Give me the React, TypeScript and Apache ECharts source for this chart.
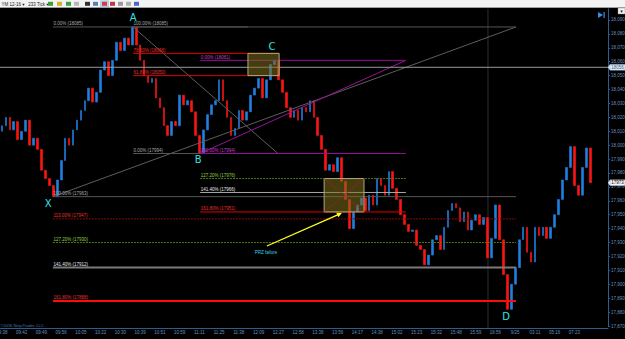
import React, { useEffect, useRef } from 'react';
import * as echarts from 'echarts';

// ---------- data ----------
const timeLabels = ['09:38', '09:42', '09:49', '09:56', '10:05', '10:22', '10:30', '10:39', '10:51', '10:59', '11:11', '11:25', '11:38', '12:09', '12:27', '12:58', '13:38', '13:56', '14:17', '14:38', '15:02', '15:23', '15:32', '15:48', '15:59', '16:56', '9/25', '03:11', '05:16', '07:23'];
const barsPerLabel = 5;
const slotCount = 154;
const firstOpen = 18010;
const closes = [
  18014, 18020, 18011, 18017, 18004, 18010, 18018, 18000, 18005, 17997,
  17982, 17976, 17971, 17963, 17975, 17989, 18005, 18000, 18011, 18018,
  18025, 18032, 18041, 18031, 18038, 18054, 18060, 18050, 18061, 18074,
  18068, 18077, 18072, 18085, 18072, 18061, 18050, 18045, 18048, 18034,
  18027, 18014, 18007, 18017, 18014, 18036, 18029, 18032, 18024, 18007,
  17994, 18011, 18022, 18029, 18032, 18047, 18032, 18020, 18007, 18012,
  18025, 18018, 18024, 18036, 18041, 18048, 18034, 18047, 18058, 18061,
  18047, 18038, 18027, 18020, 18025, 18018, 18027, 18024, 18032, 18020,
  18007, 17997, 17982, 17986, 17981, 17991, 17974, 17961, 17940, 17952,
  17957, 17962, 17953, 17964, 17957, 17976, 17971, 17964, 17981, 17969,
  17961, 17950, 17943, 17938, 17939, 17928, 17925, 17914, 17921, 17932,
  17935, 17925, 17941, 17953, 17958, 17955, 17945, 17952, 17939, 17946,
  17950, 17943, 17948, 17919, 17933, 17957, 17932, 17907, 17882, 17900,
  17912, 17932, 17941, 17923, 17916, 17941, 17935, 17941, 17933, 17941,
  17950, 17961, 17975, 17984, 17999, 17971, 17964, 17984, 17998, 17973,
];
const priceMin = 17870;
const priceMax = 18098;
const priceStep = 10;
const lastPrice = 17973;
const drawnLinePrice = 18056;
const sessionBreakIndex = 123.1;

// Fibonacci levels: price, start bar, end bar, label, kind
const levelPrices = [18085, 17963, 17947, 17930, 17912, 17888, 18085, 18066, 18050, 17994, 18061, 17994, 17976, 17966, 17952];
const levelFrom = [12.9, 12.9, 12.9, 12.9, 12.9, 12.9, 33.2, 33.2, 33.2, 33.2, 50.2, 50.2, 50.2, 50.2, 50.2];
const levelTo = [130.2, 130.2, 130.2, 130.2, 130.2, 130.2, 62.3, 70.2, 70.2, 50.2, 102.3, 102.3, 102.3, 102.3, 102.3];
const levelTexts = ['0.00% (18085)', '100.00% (17963)', '113.00% (17947)', '127.20% (17930)', '141.40% (17912)', '161.80% (17888)', '100.00% (18085)', '78.60% (18066)', '61.80% (18050)', '0.00% (17994)', '0.00% (18061)', '100.00% (17994)', '127.20% (17976)', '141.40% (17966)', '161.80% (17951)'];
const levelKinds = ['grey', 'grey', 'redDot', 'green', 'white2', 'red2', 'grey', 'red', 'red', 'grey', 'purple', 'purple', 'green', 'white', 'red'];

// diagonals: [bar, price] -> [bar, price]
const diagonals = [
  { a: [33.2, 18085], b: [69.9, 17994], kind: 'diagGrey' },
  { a: [12.9, 17963], b: [130.2, 18085], kind: 'diagGrey' },
  { a: [50.2, 17994], b: [102.3, 18061], kind: 'diagPurple' },
];
const zones = [
  { a: [62.3, 18066], b: [70.2, 18050], cross: false },
  { a: [81.6, 17976], b: [91.7, 17952], cross: true },
];
const arrowFrom = [67.1, 17927.5];
const arrowTo = [86.1, 17951.3];
const noteText = 'PRZ failure';
const noteAt = [66.9, 17923];
const pointLabels = [
  { t: 'X', at: [11.7, 17963], dy: 7 },
  { t: 'A', at: [33.2, 18085], dy: -9 },
  { t: 'B', at: [49.7, 17994], dy: 6 },
  { t: 'C', at: [68.4, 18066], dy: -7 },
  { t: 'D', at: [127.7, 17882], dy: 7 },
];

// ---------- styles ----------
const kindStyle: Record<string, { stroke: string; w: number; dash?: number[]; text: string }> = {
  grey: { stroke: '#555555', w: 1, text: '#a8a8a8' },
  redDot: { stroke: '#8a0a0a', w: 1, dash: [2, 1], text: '#e83030' },
  green: { stroke: '#4e7a12', w: 1, dash: [2, 1], text: '#92d040' },
  white2: { stroke: '#7a7a7a', w: 2, text: '#e8e8e8' },
  red2: { stroke: '#ff0a0a', w: 2, text: '#e83030' },
  red: { stroke: '#e00000', w: 1, text: '#e83030' },
  purple: { stroke: '#9a0a9a', w: 1, text: '#c040c0' },
  white: { stroke: '#a8a8a8', w: 1, text: '#e8e8e8' },
  diagGrey: { stroke: '#5e5e5e', w: 1, text: '' },
  diagPurple: { stroke: '#9a109a', w: 1, text: '' },
};
const FONT = 'Liberation Sans, DejaVu Sans, sans-serif';
const AXIS_COLOR = '#2d5d8f';
const AXIS_TEXT = '#6c90bb';

export default function App() {
  const ref = useRef<HTMLDivElement>(null);
  useEffect(() => {
    if (!ref.current) return;
    const chart = echarts.init(ref.current, null, { renderer: 'svg' });
    const categories = Array.from({ length: slotCount }, (_, i) => String(i));
    const candles = closes.map((c, i) => {
      const o = i === 0 ? firstOpen : closes[i - 1];
      return [o, c, Math.min(o, c), Math.max(o, c)];
    });
    chart.setOption({
      animation: false,
      backgroundColor: '#000000',
      grid: { left: 0, right: 17, top: 8.87, bottom: 13, containLabel: false, outerBoundsMode: 'none' },
      xAxis: [
        {
          type: 'category',
          data: categories,
          boundaryGap: true,
          offset: 2,
          axisLine: { onZero: false, lineStyle: { color: AXIS_COLOR, width: 1 } },
          axisTick: { interval: barsPerLabel - 1, alignWithLabel: true, length: 2, lineStyle: { color: AXIS_COLOR } },
          axisLabel: {
            interval: barsPerLabel - 1,
            color: AXIS_TEXT,
            fontSize: 4.5,
            fontFamily: FONT,
            margin: 2,
            formatter: (_v: string, idx: number) => (idx % barsPerLabel === 0 ? timeLabels[idx / barsPerLabel] ?? '' : ''),
          },
          splitLine: { show: false },
        },
        { type: 'value', min: -0.5, max: slotCount - 0.5, show: false, gridIndex: 0, axisLine: { onZero: false } },
      ],
      yAxis: {
        type: 'value',
        position: 'right',
        min: priceMin,
        max: priceMax,
        interval: priceStep,
        axisLine: { show: true, onZero: false, lineStyle: { color: AXIS_COLOR } },
        axisTick: { show: true, length: 2, lineStyle: { color: AXIS_COLOR } },
        axisLabel: { color: AXIS_TEXT, fontSize: 4.5, fontFamily: FONT, margin: 3, showMaxLabel: false },
        splitLine: { show: false },
      },
      series: [
        {
          type: 'candlestick',
          data: candles,
          barWidth: '55%',
          itemStyle: { color: '#1f80e0', color0: '#ff1414', borderColor: '#1f80e0', borderColor0: '#ff1414', borderWidth: 0.6 },
        },
        { type: 'line', xAxisIndex: 1, yAxisIndex: 0, data: [] },
      ],
    });

    const P = (x: number, p: number): number[] => chart.convertToPixel({ xAxisIndex: 1, yAxisIndex: 0 }, [x, p]) as number[];
    const g: any[] = [];
    const top = P(0, priceMax)[1];
    const bottom = P(0, priceMin)[1] + 2;
    const axisX = P(slotCount - 0.5, priceMin)[0];

    // session break
    const sx = P(sessionBreakIndex, priceMin)[0];
    g.push({ type: 'line', shape: { x1: sx, y1: top, x2: sx, y2: bottom }, style: { stroke: '#2e2e2e', lineWidth: 1 }, z: 1 });

    // drawn horizontal line
    const hy = P(0, drawnLinePrice)[1];
    g.push({ type: 'line', shape: { x1: 0, y1: hy, x2: axisX, y2: hy }, style: { stroke: '#9a9a9a', lineWidth: 1 }, z: 5 });

    // diagonals
    diagonals.forEach((d) => {
      const s = kindStyle[d.kind];
      const a = P(d.a[0], d.a[1]);
      const b = P(d.b[0], d.b[1]);
      g.push({ type: 'line', shape: { x1: a[0], y1: a[1], x2: b[0], y2: b[1] }, style: { stroke: s.stroke, lineWidth: s.w }, z: 4 });
    });

    // levels
    levelPrices.forEach((p, i) => {
      const s = kindStyle[levelKinds[i]];
      const a = P(levelFrom[i], p);
      const b = P(levelTo[i], p);
      if (b[0] > a[0]) {
        g.push({ type: 'line', shape: { x1: a[0], y1: a[1], x2: b[0], y2: b[1] }, style: { stroke: s.stroke, lineWidth: s.w, lineDash: s.dash }, z: 5 });
      }
      g.push({
        type: 'text', x: a[0] + 0.5, y: a[1] - 0.8, z: 7,
        style: { text: levelTexts[i], fill: s.text, fontSize: 4.5, fontFamily: FONT, align: 'left', verticalAlign: 'bottom' },
      });
    });

    // zones
    zones.forEach((zn) => {
      const a = P(zn.a[0], zn.a[1]);
      const b = P(zn.b[0], zn.b[1]);
      g.push({ type: 'rect', shape: { x: a[0], y: a[1], width: b[0] - a[0], height: b[1] - a[1] }, style: { fill: 'rgba(125,112,28,0.55)', stroke: '#b0a878', lineWidth: 1 }, z: 6 });
      if (zn.cross) {
        g.push({ type: 'line', shape: { x1: a[0], y1: a[1], x2: b[0], y2: b[1] }, style: { stroke: '#a02020', lineWidth: 0.6 }, z: 6 });
        g.push({ type: 'line', shape: { x1: a[0], y1: b[1], x2: b[0], y2: a[1] }, style: { stroke: '#a02020', lineWidth: 0.6 }, z: 6 });
      }
    });

    // arrow
    const s0 = P(arrowFrom[0], arrowFrom[1]);
    const e0 = P(arrowTo[0], arrowTo[1]);
    const dx = e0[0] - s0[0];
    const dy = e0[1] - s0[1];
    const len = Math.hypot(dx, dy);
    const ux = dx / len;
    const uy = dy / len;
    const nx = -uy;
    const ny = ux;
    g.push({ type: 'line', shape: { x1: s0[0], y1: s0[1], x2: e0[0] - ux * 4, y2: e0[1] - uy * 4 }, style: { stroke: '#ffff20', lineWidth: 1.3 }, z: 8 });
    g.push({
      type: 'polygon',
      shape: { points: [[e0[0], e0[1]], [e0[0] - ux * 5 + nx * 2.5, e0[1] - uy * 5 + ny * 2.5], [e0[0] - ux * 5 - nx * 2.5, e0[1] - uy * 5 - ny * 2.5]] },
      style: { fill: '#ffff20' }, z: 8,
    });
    const np = P(noteAt[0], noteAt[1]);
    g.push({ type: 'text', x: np[0], y: np[1], z: 8, style: { text: noteText, fill: '#30d8e0', fontSize: 4.5, fontFamily: FONT, align: 'center', verticalAlign: 'middle' } });

    // swing point letters
    pointLabels.forEach((l) => {
      const q = P(l.at[0], l.at[1]);
      g.push({ type: 'text', x: q[0], y: q[1] + l.dy, z: 9, style: { text: l.t, fill: '#2fe4e4', fontSize: 10, fontFamily: 'DejaVu Sans, sans-serif', align: 'center', verticalAlign: 'middle' } });
    });

    // price markers on axis
    const markers = [
      { p: drawnLinePrice, fill: '#e6edf6', color: '#2d5d8f' },
      { p: lastPrice, fill: '#f4f4f4', color: '#000000' },
    ];
    markers.forEach((m) => {
      const y = P(0, m.p)[1];
      g.push({ type: 'polygon', shape: { points: [[axisX, y], [axisX + 2, y - 3], [axisX + 2, y + 3]] }, style: { fill: m.fill }, z: 10 });
      g.push({ type: 'rect', shape: { x: axisX + 2, y: y - 3, width: 15, height: 6 }, style: { fill: m.fill, stroke: '#7a8ea6', lineWidth: 0.4 }, z: 10 });
      g.push({ type: 'text', x: axisX + 9.5, y, z: 11, style: { text: String(m.p), fill: m.color, fontSize: 4.5, fontFamily: FONT, align: 'center', verticalAlign: 'middle' } });
    });

    // toolbar
    g.push({ type: 'rect', shape: { x: 0, y: 0, width: 625, height: 7.5 }, style: { fill: '#f3f3f3' }, z: 20 });
    g.push({ type: 'line', shape: { x1: 0, y1: 7.5, x2: 625, y2: 7.5 }, style: { stroke: '#b8b8b8', lineWidth: 0.6 }, z: 20 });
    g.push({ type: 'text', x: 1.5, y: 4, z: 21, style: { text: 'YM 12-16 ▾   233 Tick ▾', fill: '#222', fontSize: 4.5, fontFamily: FONT, verticalAlign: 'middle' } });
    const icons = [
      [48, '#3f9a3f'], [57, '#d8b020'], [66, '#3aa43a'], [74, '#b8b8b8'], [85, '#333333'], [93, '#5a82b0'],
      [102, '#d04040'], [110, '#c03a3a'], [118, '#9a9a9a'], [126, '#b0b0b0'], [134, '#4a68c8'],
    ] as [number, string][];
    g.push({ type: 'rect', shape: { x: 100.5, y: 0.8, width: 8, height: 6 }, style: { fill: '#bcd6f2', stroke: '#7aa6d8', lineWidth: 0.4 }, z: 20 });
    icons.forEach(([x, c]) => {
      g.push({ type: 'rect', shape: { x, y: 1.8, width: 5, height: 4 }, style: { fill: c }, z: 21 });
    });
    // top-right controls
    g.push({ type: 'polygon', shape: { points: [[598, 12], [603, 15], [598, 18]] }, style: { fill: '#3a8ee6' }, z: 20 });
    g.push({ type: 'rect', shape: { x: 603.5, y: 12, width: 1.2, height: 6 }, style: { fill: '#3a8ee6' }, z: 20 });
    g.push({ type: 'rect', shape: { x: 618, y: 8, width: 7, height: 6 }, style: { fill: '#f0f0f0', stroke: '#888', lineWidth: 0.4 }, z: 20 });
    g.push({ type: 'text', x: 621.5, y: 11, z: 21, style: { text: '▾', fill: '#222', fontSize: 5, fontFamily: FONT, align: 'center', verticalAlign: 'middle' } });
    // copyright
    g.push({ type: 'text', x: 0.5, y: bottom - 2.5, z: 21, style: { text: '©2016 NinjaTrader, LLC', fill: '#4a7ab0', fontSize: 4, fontFamily: FONT, verticalAlign: 'middle' } });

    chart.setOption({ graphic: g });
    return () => chart.dispose();
  }, []);
  return <div ref={ref} style={{ position: 'fixed', left: 0, top: 0, width: 625, height: 339 }} />;
}
